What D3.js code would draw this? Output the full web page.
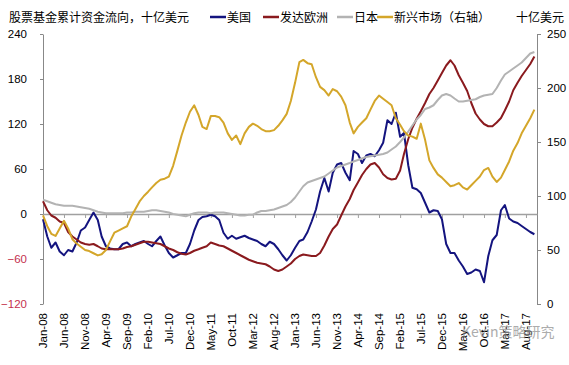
<!DOCTYPE html>
<html><head><meta charset="utf-8">
<script src="https://cdn.jsdelivr.net/npm/d3@7"></script>
<style>
body{margin:0;background:#fff;}
svg{display:block;}
text{font-family:"Liberation Sans",Arial,sans-serif;}
.cjk{font-family:"Noto Sans CJK SC","Noto Sans",sans-serif;}
</style></head>
<body><svg id="c" width="569" height="365"></svg>
<script>
// ---- data (monthly, Jan-08 .. Oct-17) ----
const startMonth = "2008-01";
const usFlows = [-7,-30,-45,-38,-50,-55,-48,-50,-38,-22,-18,-8,2,-8,-30,-43,-46,-47,-47,-40,
 -38,-43,-40,-38,-36,-40,-43,-36,-30,-42,-52,-58,-55,-52,-52,-40,-22,-8,-4,-3,
 -1,-3,-8,-25,-33,-29,-33,-31,-29,-32,-34,-36,-40,-43,-37,-40,-47,-55,-62,-55,
 -45,-36,-34,-24,-10,6,30,48,30,55,66,68,55,45,84,80,68,78,80,77,
 85,95,125,120,135,103,108,65,35,33,28,15,2,5,4,-7,-40,-52,-52,-62,
 -70,-80,-78,-74,-76,-91,-56,-35,-28,5,12,-6,-10,-12,-16,-20,-24,-27];
const europeFlows = [17,5,-2,-5,-10,-12,-24,-30,-34,-38,-40,-41,-40,-43,-46,-47,-47,-47,-47,-46,
 -44,-43,-41,-39,-37,-37,-38,-39,-40,-43,-46,-48,-51,-53,-54,-52,-49,-47,-45,-43,
 -38,-40,-42,-43,-46,-49,-52,-55,-58,-61,-63,-65,-66,-67,-70,-74,-76,-74,-70,-66,
 -60,-56,-54,-55,-56,-56,-52,-42,-30,-20,-14,-2,10,20,32,42,52,60,66,68,
 62,53,48,46,47,58,80,100,115,127,137,148,160,168,178,188,198,205,198,185,
 175,164,148,134,126,120,117,117,122,128,138,150,165,175,184,192,200,210];
const japanFlows = [19,17,15,13,12,11,11,11,10,9,8,7,5,3,2,1,1,1,1,1,
 2,2,3,3,3,4,5,5,4,3,2,0,-1,-2,-3,-1,1,2,2,2,
 1,2,2,2,1,0,-1,-2,-2,-1,-1,2,4,4,5,6,8,10,12,16,
 22,30,37,42,44,46,48,50,54,58,62,64,66,68,70,72,74,76,77,78,
 79,80,82,86,90,96,102,110,118,126,132,140,142,145,152,158,160,158,154,150,
 150,151,152,153,156,158,159,160,168,178,186,190,194,198,202,208,214,216];
const emFlows = [82,72,65,63,70,77,70,60,56,53,50,49,47,45,46,50,58,66,68,70,
 72,81,88,95,100,104,108,112,115,116,118,128,142,156,168,178,184,175,164,162,
 174,174,173,168,158,152,156,148,158,164,167,165,162,160,160,161,165,170,176,188,
 205,224,226,223,222,210,201,198,193,199,197,192,184,168,158,164,168,172,180,188,
 193,190,187,184,172,166,160,156,155,153,167,152,133,126,120,117,113,109,110,112,
 108,106,110,114,118,124,126,118,113,117,124,132,142,149,158,165,172,180];
const tickLabels = ["Jan-08","Jun-08","Nov-08","Apr-09","Sep-09","Feb-10","Jul-10","Dec-10",
 "May-11","Oct-11","Mar-12","Aug-12","Jan-13","Jun-13","Nov-13","Apr-14","Sep-14","Feb-15",
 "Jul-15","Dec-15","May-16","Oct-16","Mar-17","Aug-17"];
const leftTicks = [-120,-60,0,60,120,180,240];
const rightTicks = [0,50,100,150,200,250];
const seriesNames = ["美国","发达欧洲","日本","新兴市场（右轴）"];
const leftTitle = "股票基金累计资金流向，十亿美元";
const rightTitle = "十亿美元";
const watermark = "Kevin策略研究";

// ---- drawing ----
const svg = d3.select("#c");
const parseM = d3.timeParse("%Y-%m");
const parseTick = d3.timeParse("%b-%y");
const t0 = parseM(startMonth);
const dates = usFlows.map((_, i) => d3.timeMonth.offset(t0, i));

const x = d3.scaleTime().domain([t0, new Date(2017, 9, 20)]).range([43, 537]);
const yL = d3.scaleLinear().domain([-120, 240]).range([304, 34]);
const yR = d3.scaleLinear().domain([0, 250]).range([304, 34]);

const colors = ["#14147f", "#8a1a1e", "#b3b3b3", "#d4a62a"];

// left axis
const gL = svg.append("g").attr("transform", "translate(43,0)")
  .call(d3.axisLeft(yL).tickValues(leftTicks).tickSize(3).tickSizeOuter(0).tickPadding(13));
gL.select(".domain").attr("stroke", "#888");
gL.selectAll(".tick line").attr("stroke", "#888");
gL.selectAll(".tick text").attr("font-size", 11.5)
  .attr("fill", d => d < 0 ? "#c4304e" : "#000");

// right axis
const gR = svg.append("g").attr("transform", "translate(537,0)")
  .call(d3.axisRight(yR).tickValues(rightTicks).tickSize(4).tickSizeOuter(0).tickPadding(6));
gR.select(".domain").attr("stroke", "#888");
gR.selectAll(".tick line").attr("stroke", "#888");
gR.selectAll(".tick text").attr("font-size", 11.5).attr("fill", "#000");

// x axis at zero
const tickDates = tickLabels.map(s => parseTick(s));
const gX = svg.append("g").attr("transform", `translate(0,${yL(0)})`)
  .call(d3.axisBottom(x).tickValues(tickDates).tickSize(4).tickSizeOuter(0).tickFormat(() => ""));
gX.select(".domain").attr("stroke", "#a0a0a0").attr("stroke-width", 1.5);
gX.selectAll(".tick line").attr("stroke", "#a0a0a0");

// x tick labels (rotated)
svg.append("g").selectAll("text").data(tickLabels).join("text")
  .attr("transform", (d, i) => `translate(${x(tickDates[i])},313) rotate(-90)`)
  .attr("text-anchor", "end").attr("dy", "0.35em")
  .attr("font-size", 11.5).attr("fill", "#000").text(d => d);

// lines
const lineL = d3.line().x((d, i) => x(dates[i])).y(d => yL(d));
const lineR = d3.line().x((d, i) => x(dates[i])).y(d => yR(d));
[usFlows, europeFlows, japanFlows].forEach((s, k) => {
  svg.append("path").datum(s).attr("d", lineL).attr("fill", "none")
    .attr("stroke", colors[k]).attr("stroke-width", 2).attr("stroke-linejoin", "round");
});
svg.append("path").datum(emFlows).attr("d", lineR).attr("fill", "none")
  .attr("stroke", colors[3]).attr("stroke-width", 2).attr("stroke-linejoin", "round");

// titles / legend
svg.append("text").attr("class", "cjk").attr("x", 9).attr("y", 22)
  .attr("font-size", 12).attr("fill", "#000").text(leftTitle);
svg.append("text").attr("class", "cjk").attr("x", 516).attr("y", 22)
  .attr("font-size", 12).attr("fill", "#000").text(rightTitle);
const legX = [210, 263, 337, 377];
const leg = svg.append("g");
seriesNames.forEach((n, i) => {
  leg.append("line").attr("x1", legX[i]).attr("x2", legX[i] + 16)
    .attr("y1", 17).attr("y2", 17).attr("stroke", colors[i]).attr("stroke-width", 2.5);
  leg.append("text").attr("class", "cjk").attr("x", legX[i] + 17).attr("y", 22)
    .attr("font-size", 12).attr("fill", "#000").text(n);
});

// watermark
svg.append("text").attr("class", "cjk").attr("x", 462).attr("y", 337)
  .attr("font-size", 14).attr("fill", "#8a8a8a").attr("opacity", 0.7).text(watermark);
</script></body></html>
